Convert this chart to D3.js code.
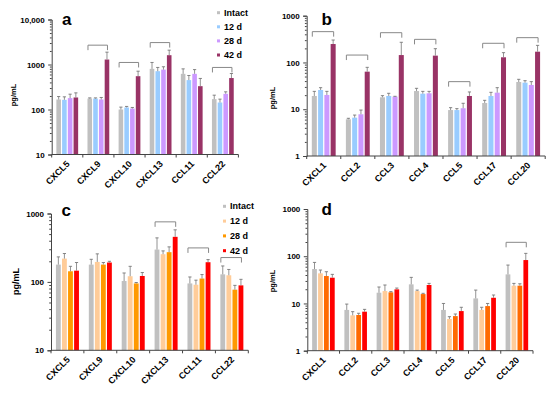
<!DOCTYPE html>
<html><head><meta charset="utf-8">
<script src="https://cdn.jsdelivr.net/npm/d3@7"></script>
<style>
body{margin:0;background:#fff}
svg{display:block}
text{font-family:Arial,"Liberation Sans",sans-serif;font-weight:bold;fill:#000}
</style>
</head><body><svg id="chart" width="550" height="399"></svg>
<script>
const series = ["Intact", "12 d", "28 d", "42 d"];
const colorsTop = ["#c0c0c0", "#99ccff", "#cc99ff", "#993366"];
const colorsC = ["#c0c0c0", "#ffcc99", "#ff9900", "#ff0000"];
const colorsD = ["#c0c0c0", "#ffcc99", "#ff6a00", "#ff0000"];

// Panel a
const catsA = ["CXCL5", "CXCL9", "CXCL10", "CXCL13", "CCL11", "CCL22"];
const intactA = [167, 175, 100, 800, 620, 170];
const d12A = [164, 175, 111, 710, 450, 143];
const d28A = [179, 167, 105, 770, 620, 223];
const d42A = [185, 1290, 550, 1610, 330, 500];
const errIntactA = [194, 181, 113, 1110, 800, 208];
const errD12A = [191, 181, 117, 860, 570, 170];
const errD28A = [219, 185, 111, 890, 770, 247];
const errD42A = [234, 1880, 710, 2080, 490, 630];
const bracketA = [null, 2690, 1110, 3070, null, 860];
const yTicksA = [10, 100, 1000, 10000];
const yLabelsA = ["10", "100", "1000", "10,000"];

// Panel b
const catsB = ["CXCL1", "CCL2", "CCL3", "CCL4", "CCL5", "CCL17", "CCL20"];
const intactB = [19.2, 6.1, 18.0, 24.5, 9.6, 13.6, 38.2];
const d12B = [25.8, 6.6, 19.2, 21.5, 9.6, 19.2, 37.0];
const d28B = [20.2, 7.8, 18.6, 21.9, 10.5, 22.6, 33.0];
const d42B = [248, 63.6, 144, 140, 19.2, 129, 170];
const errIntactB = [24.1, 6.4, 19.5, 28.0, 10.8, 15.5, 43.6];
const errD12B = [28.9, 7.5, 21.9, 24.1, 10.3, 23.0, 40.8];
const errD28B = [24.1, 9.6, 18.9, 24.1, 13.4, 28.9, 38.9];
const errD42B = [302, 78.7, 270, 197, 23.4, 162, 232];
const bracketB = [456, 144, 433, 312, 38.9, 257, 339];
const yTicksB = [1, 10, 100, 1000];
const yLabelsB = ["1", "10", "100", "1000"];

// Panel c
const catsC = ["CXCL5", "CXCL9", "CXCL10", "CXCL13", "CCL11", "CCL22"];
const intactC = [179, 179, 103, 297, 95, 129];
const d12C = [219, 196, 121, 254, 91, 125];
const d28C = [143, 179, 95, 272, 112, 77];
const d42C = [146, 192, 122, 456, 194, 89];
const errIntactC = [232, 214, 135, 440, 118, 171];
const errD12C = [260, 257, 169, 284, 106, 152];
const errD28C = [169, 192, 98, 325, 128, 89];
const errD42C = [192, 200, 137, 577, 212, 109];
const bracketC = [null, null, null, 755, 314, 227];
const yTicksC = [10, 100, 1000];
const yLabelsC = ["10", "100", "1000"];

// Panel d
const catsD = ["CXCL1", "CCL2", "CCL3", "CCL4", "CCL5", "CCL17", "CCL20"];
const intactD = [53.6, 7.3, 16.9, 25.4, 7.3, 12.8, 41.3];
const d12D = [43.4, 5.6, 18.3, 18.3, 4.7, 7.3, 23.8];
const d28D = [38.1, 5.7, 17.2, 15.8, 5.4, 8.8, 23.8];
const d42D = [35.1, 6.7, 19.9, 24.6, 6.9, 13.2, 83];
const errIntactD = [74, 9.7, 22.3, 35.7, 10.0, 19.2, 65];
const errD12D = [51, 6.7, 24.6, 19.2, 5.25, 8.3, 26.6];
const errD28D = [47, 6.2, 17.8, 16.4, 5.98, 10.0, 26.1];
const errD42D = [41.3, 7.5, 21.2, 26.6, 8.3, 15.1, 115];
const bracketD = [null, null, null, null, null, null, 197];
const yTicksD = [1, 10, 100, 1000];
const yLabelsD = ["1", "10", "100", "1000"];

const svg = d3.select("#chart");
const axisColor = "#444";
const errColor = "#777";

function drawPanel(cfg) {
  const g = svg.append("g");
  const x0 = d3.scaleBand().domain(cfg.cats).range(cfg.xRange).padding(0);
  const bw = x0.bandwidth();
  const x1 = d3.scaleBand().domain(series).range([bw * 0.15, bw * 0.85]).paddingInner(0.2);
  const y = d3.scaleLog().domain(cfg.yDomain).range(cfg.yRange);
  const base = cfg.yRange[0];

  // bars
  cfg.values.forEach((vals, si) => {
    g.selectAll(null).data(vals).enter().append("rect")
      .attr("x", (d, i) => x0(cfg.cats[i]) + x1(series[si]))
      .attr("y", d => y(d))
      .attr("width", x1.bandwidth())
      .attr("height", d => base - y(d))
      .attr("fill", cfg.colors[si]);
  });
  // error bars
  cfg.errs.forEach((vals, si) => {
    vals.forEach((e, i) => {
      const cx = x0(cfg.cats[i]) + x1(series[si]) + x1.bandwidth() / 2;
      const v = cfg.values[si][i];
      g.append("line").attr("x1", cx).attr("x2", cx).attr("y1", y(v)).attr("y2", y(e))
        .attr("stroke", errColor).attr("stroke-width", 0.8);
      g.append("line").attr("x1", cx - 1.6).attr("x2", cx + 1.6).attr("y1", y(e)).attr("y2", y(e))
        .attr("stroke", errColor).attr("stroke-width", 0.9);
    });
  });
  // brackets
  cfg.brackets.forEach((b, i) => {
    if (b == null) return;
    const xa = x0(cfg.cats[i]) + x1(series[0]) + 0.5;
    const xb = x0(cfg.cats[i]) + x1(series[3]) + x1.bandwidth() / 2 + 0.5;
    const yb = y(b);
    g.append("path").attr("d", `M${xa},${yb + 5}V${yb}H${xb}V${yb + 5}`)
      .attr("fill", "none").attr("stroke", "#888").attr("stroke-width", 1);
  });

  // y axis
  const yAxis = d3.axisLeft(y).tickValues(cfg.yTicks).tickSize(3.5).tickPadding(3.5)
    .tickFormat((d, i) => cfg.yLabels[i]);
  const ya = g.append("g").attr("transform", `translate(${cfg.xRange[0]},0)`).call(yAxis);
  ya.selectAll("text").style("font-size", "8px").attr("fill", "#000");
  ya.selectAll("line").attr("stroke", axisColor);
  ya.select(".domain").attr("stroke", axisColor);
  const minors = [];
  for (let dec = cfg.yDomain[0]; dec < cfg.yDomain[1]; dec *= 10) {
    for (let k = 2; k <= 9; k++) minors.push(dec * k);
  }
  const ym = g.append("g").attr("transform", `translate(${cfg.xRange[0]},0)`)
    .call(d3.axisLeft(y).tickValues(minors).tickSize(1.8).tickFormat(""));
  ym.select(".domain").remove();
  ym.selectAll("line").attr("stroke", axisColor);

  // x axis
  g.append("line").attr("x1", cfg.xRange[0]).attr("x2", cfg.xRange[1])
    .attr("y1", base).attr("y2", base).attr("stroke", axisColor).attr("stroke-width", 1);
  const bounds = [cfg.xRange[0]].concat(cfg.cats.map(c => x0(c) + bw));
  g.selectAll(null).data(bounds).enter().append("line")
    .attr("x1", d => d).attr("x2", d => d).attr("y1", base).attr("y2", base + 3)
    .attr("stroke", axisColor);
  g.selectAll(null).data(cfg.cats).enter().append("text")
    .attr("transform", d => `translate(${x0(d) + bw / 2 + 3},${base + 10}) rotate(-45)`)
    .attr("text-anchor", "end")
    .style("font-size", "9px")
    .text(d => d);

  // panel letter
  g.append("text").attr("x", cfg.letterPos[0]).attr("y", cfg.letterPos[1])
    .style("font-size", "17px").text(cfg.letter);

  // y title
  g.append("text")
    .attr("transform", `translate(${cfg.ylabPos[0]},${cfg.ylabPos[1]}) rotate(-90)`)
    .attr("text-anchor", "middle").attr("dominant-baseline", "central")
    .style("font-size", cfg.ylabSize + "px").text("pg/mL");

  // legend
  if (cfg.legend) {
    const lg = g.append("g");
    series.forEach((s, i) => {
      const ly = cfg.legend[1] + i * cfg.legend[2];
      lg.append("rect").attr("x", cfg.legend[0]).attr("y", ly - 1.5).attr("width", 3).attr("height", 3)
        .attr("fill", cfg.colors[i]);
      lg.append("text").attr("x", cfg.legend[0] + 7).attr("y", ly).attr("dominant-baseline", "central")
        .style("font-size", "9px").text(s);
    });
  }
}

drawPanel({
  cats: catsA, values: [intactA, d12A, d28A, d42A], errs: [errIntactA, errD12A, errD28A, errD42A],
  brackets: bracketA, colors: colorsTop, xRange: [51.7, 238.4], yDomain: [10, 10000], yRange: [154.5, 19.5],
  yTicks: yTicksA, yLabels: yLabelsA, letter: "a", letterPos: [62, 25], ylabPos: [13.5, 95], ylabSize: 7.5,
  legend: [217, 12.7, 14.1]
});
drawPanel({
  cats: catsB, values: [intactB, d12B, d28B, d42B], errs: [errIntactB, errD12B, errD28B, errD42B],
  brackets: bracketB, colors: colorsTop, xRange: [306.7, 545.2], yDomain: [1, 1000], yRange: [156, 15.7],
  yTicks: yTicksB, yLabels: yLabelsB, letter: "b", letterPos: [321.5, 25], ylabPos: [272.5, 98], ylabSize: 7.5,
  legend: null
});
drawPanel({
  cats: catsC, values: [intactC, d12C, d28C, d42C], errs: [errIntactC, errD12C, errD28C, errD42C],
  brackets: bracketC, colors: colorsC, xRange: [51, 248.3], yDomain: [10, 1000], yRange: [350.3, 213.5],
  yTicks: yTicksC, yLabels: yLabelsC, letter: "c", letterPos: [61.5, 216], ylabPos: [16, 281.5], ylabSize: 9,
  legend: [223, 206.3, 14.8]
});
drawPanel({
  cats: catsD, values: [intactD, d12D, d28D, d42D], errs: [errIntactD, errD12D, errD28D, errD42D],
  brackets: bracketD, colors: colorsD, xRange: [307.3, 533], yDomain: [1, 1000], yRange: [350.7, 209],
  yTicks: yTicksD, yLabels: yLabelsD, letter: "d", letterPos: [321.5, 215], ylabPos: [272.5, 281], ylabSize: 7.5,
  legend: null
});
</script>
</body></html>
